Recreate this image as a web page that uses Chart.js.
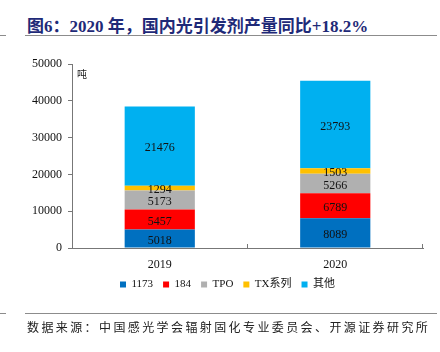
<!DOCTYPE html>
<html>
<head>
<meta charset="utf-8">
<script src="https://cdn.jsdelivr.net/npm/chart.js@4"></script>
<style>
  body { margin: 0; background: #fff; }
  #wrap { position: relative; width: 440px; height: 352px; overflow: hidden; }
  #chart { position: absolute; left: 0; top: 0; }
  .title { position: absolute; left: 27px; top: 12px; font: bold 17px 'Liberation Serif', 'Noto Sans CJK SC', serif; color: #1f2a78; white-space: nowrap; }
  .rule { position: absolute; height: 0; border-top: 1.5px solid #8c8c8c; }
  .source { position: absolute; left: 27px; top: 318px; font: 12px 'Noto Sans CJK SC', sans-serif; color: #222; letter-spacing: 2.4px; white-space: nowrap; }
  .unit { position: absolute; left: 77px; top: 66px; font: 10px 'Noto Sans CJK SC', sans-serif; color: #222; }
</style>
</head>
<body>
<div id="wrap">
  <div class="title">图6：2020 年，国内光引发剂产量同比+18.2%</div>
  <div class="rule" style="left:0;width:6px;top:35px"></div>
  <div class="rule" style="left:25px;width:412px;top:35px"></div>
  <canvas id="chart" width="440" height="352"></canvas>
  <div class="unit">吨</div>
  <div class="rule" style="left:0;width:6px;top:313px"></div>
  <div class="rule" style="left:25px;width:412px;top:313px"></div>
  <div class="source">数据来源：中国感光学会辐射固化专业委员会、开源证券研究所</div>
</div>
<script>
const years = ['2019', '2020'];
const seriesNames = ['1173', '184', 'TPO', 'TX系列', '其他'];
const s1173 = [5018, 8089];
const s184 = [5457, 6789];
const sTPO = [5173, 5266];
const sTX = [1294, 1503];
const sOther = [21476, 23793];
const yTicks = [0, 10000, 20000, 30000, 40000, 50000];

const colors = ['#0070c0', '#ff0000', '#b0b0b0', '#ffc000', '#00b0f0'];
const serif = "'Liberation Serif', 'Noto Sans CJK SC', serif";

// draw the value inside each bar segment
const segmentLabels = {
  id: 'segmentLabels',
  afterDatasetsDraw(chart) {
    const ctx = chart.ctx;
    ctx.save();
    ctx.font = '12px ' + serif;
    ctx.fillStyle = '#111';
    ctx.textAlign = 'center';
    ctx.textBaseline = 'middle';
    chart.data.datasets.forEach((ds, i) => {
      chart.getDatasetMeta(i).data.forEach((bar, j) => {
        const mid = (bar.y + bar.base) / 2;
        ctx.fillText(ds.data[j], bar.x, mid + 2);
      });
    });
    ctx.restore();
  }
};

// small upward tick marks at the category boundaries of the x axis
const xTicks = {
  id: 'xTicks',
  afterDraw(chart) {
    const x = chart.scales.x, ctx = chart.ctx;
    const step = (x.right - x.left) / years.length;
    ctx.save();
    ctx.strokeStyle = '#777';
    ctx.lineWidth = 1;
    for (let k = 1; k <= years.length; k++) {
      const px = Math.round(x.left + step * k) - 0.5;
      ctx.beginPath();
      ctx.moveTo(px, x.top);
      ctx.lineTo(px, x.top - 4);
      ctx.stroke();
    }
    ctx.restore();
  }
};

const datasets = [s1173, s184, sTPO, sTX, sOther].map((d, i) => ({
  label: seriesNames[i],
  data: d,
  backgroundColor: colors[i],
  borderWidth: 0,
  barPercentage: 0.8,
  categoryPercentage: 0.5
}));

new Chart(document.getElementById('chart'), {
  type: 'bar',
  data: { labels: years, datasets },
  plugins: [segmentLabels, xTicks],
  options: {
    responsive: false,
    animation: false,
    layout: { padding: { left: 32, right: 17, top: 64, bottom: 52 } },
    plugins: {
      tooltip: { enabled: false },
      legend: {
        position: 'bottom',
        labels: {
          boxWidth: 6,
          boxHeight: 6,
          padding: 10,
          color: '#111',
          font: { family: serif, size: 11 }
        }
      }
    },
    scales: {
      x: {
        stacked: true,
        grid: { display: false },
        border: { color: '#777', width: 1 },
        ticks: { color: '#111', font: { family: serif, size: 12 }, padding: 2 },
        afterFit(axis) { axis.height = 21; }
      },
      y: {
        stacked: true,
        min: 0,
        max: 50000,
        afterBuildTicks(axis) { axis.ticks = yTicks.map(v => ({ value: v })); },
        afterFit(axis) { axis.width = 40; },
        grid: { drawOnChartArea: false, tickLength: 4, color: '#777' },
        border: { color: '#777', width: 1 },
        ticks: {
          color: '#111',
          font: { family: serif, size: 12 },
          padding: 6,
          callback: v => String(v)
        }
      }
    }
  }
});
</script>
</body>
</html>
